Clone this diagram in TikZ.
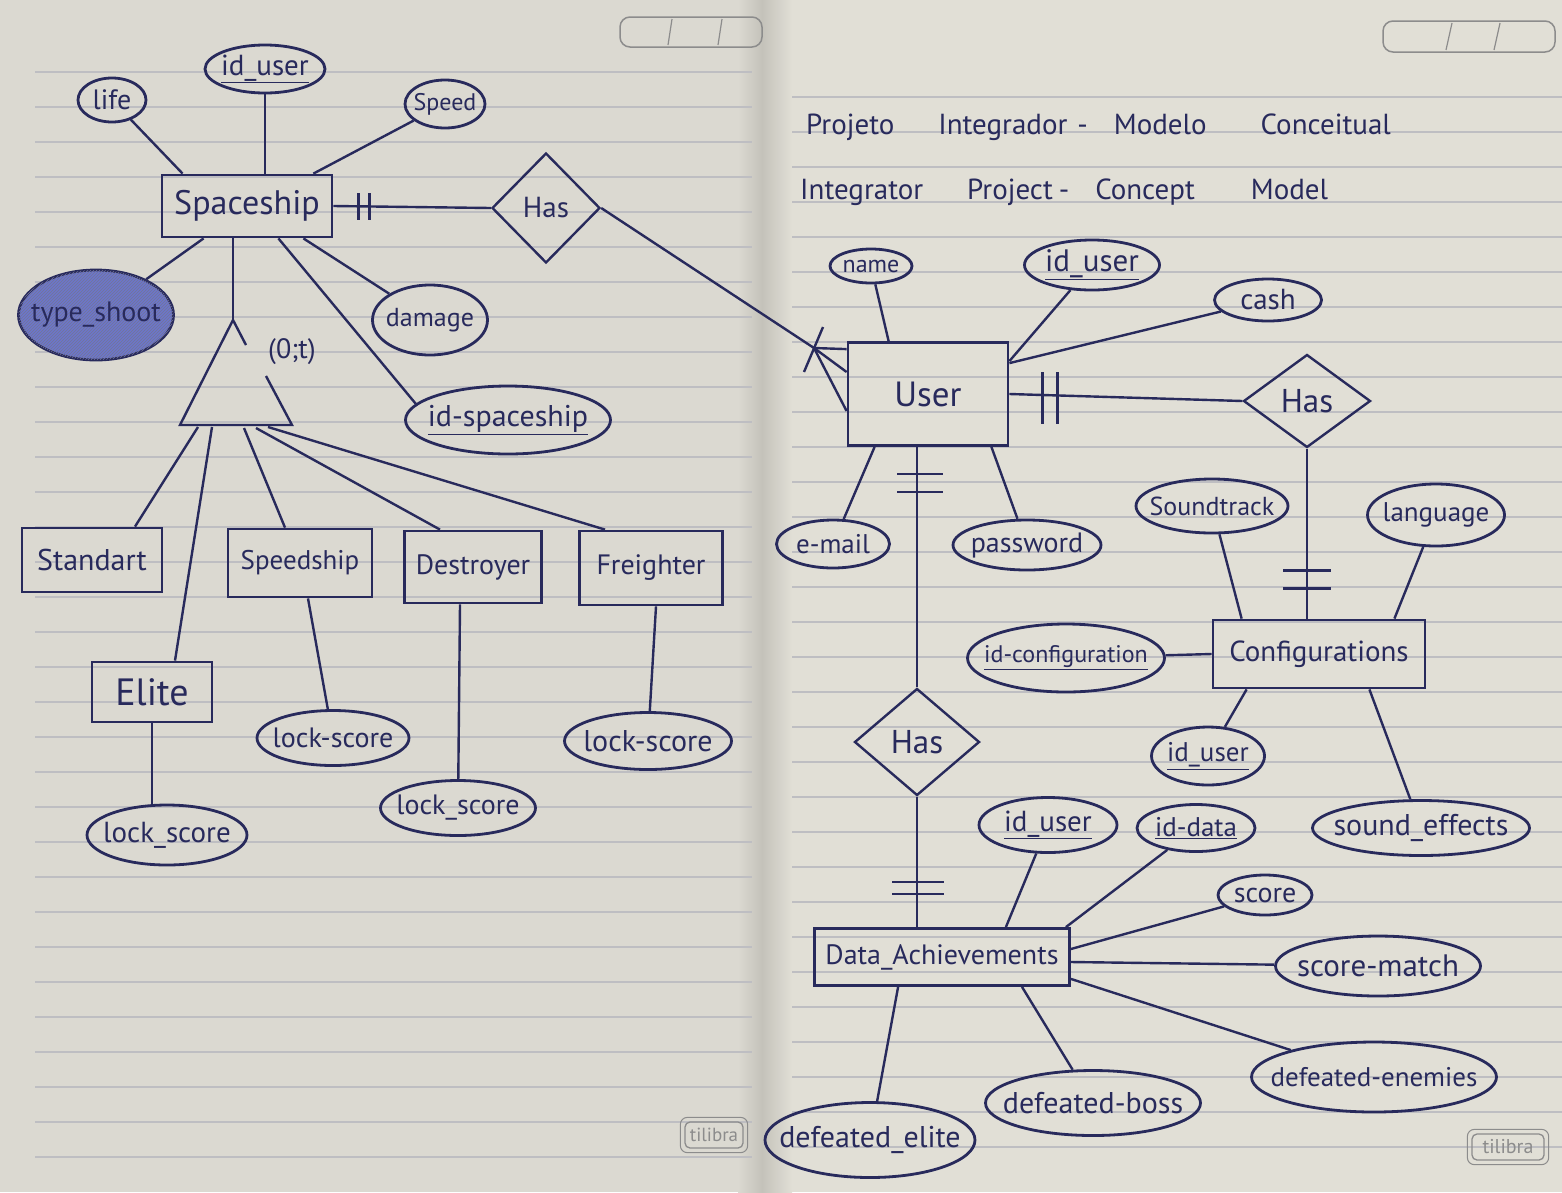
\documentclass[tikz,border=0pt]{standalone}
\usepackage{fontspec}
\setmainfont{PT Sans}
\usetikzlibrary{shapes.geometric,calc,patterns}

\definecolor{ink}{RGB}{40,42,92}
\definecolor{shade}{RGB}{108,118,204}
\definecolor{paperL}{RGB}{219,217,209}
\definecolor{paperR}{RGB}{225,223,214}
\definecolor{rulecol}{RGB}{190,190,194}
\definecolor{foldcol}{RGB}{196,194,186}
\definecolor{printcol}{RGB}{140,140,140}

\newcommand{\fs}[1]{\fontsize{#1}{#1}\selectfont}
% label text that does not widen its shape
\newcommand{\inkt}[1]{\makebox[0pt]{#1}}

\begin{document}
\begin{tikzpicture}[x=1pt,y=-1pt,
  ent/.style={draw=ink, line width=2.8pt, rectangle, inner sep=0pt, text=ink},
  attr/.style={draw=ink, line width=2.8pt, ellipse, inner sep=0pt, text=ink},
  rel/.style={draw=ink, line width=2.4pt, diamond, inner sep=0pt, text=ink},
  link/.style={draw=ink, line width=2.4pt},
  bar/.style={draw=ink, line width=2.4pt},
  ruled/.style={draw=rulecol, line width=1.2pt},
  note/.style={text=ink, inner sep=0pt},
  brand/.style={draw=printcol, text=printcol, rounded corners=5pt, line width=1.3pt, inner sep=0pt},
]
\useasboundingbox (0,0) rectangle (1562,1192);

% --- notebook paper ---
\fill[paperL] (0,0) rectangle (762,1192);
\fill[paperR] (762,0) rectangle (1562,1192);
\fill[left color=paperL, right color=foldcol] (738,0) rectangle (762,1192);
\fill[left color=foldcol, right color=paperR] (762,0) rectangle (792,1192);
\foreach \k in {2,...,33} \draw[ruled] (35,{2+35*\k}) -- (752,{2+35*\k});
\foreach \k in {2,...,32} \draw[ruled] (792,{27+35*\k}) -- (1562,{27+35*\k});

% date boxes
\draw[printcol, line width=1.5pt, rounded corners=10pt] (620,17) rectangle (762,47);
\draw[printcol, line width=1.2pt] (672,19) -- (668,45) (722,19) -- (718,45);
\draw[printcol, line width=1.5pt, rounded corners=10pt] (1383,21) rectangle (1555,52);
\draw[printcol, line width=1.2pt] (1452,23) -- (1446,50) (1500,23) -- (1494,50);

% brand badges
\node[brand, minimum width=58, minimum height=26, font=\fs{19}] (tl1) at (714,1135) {tilibra};
\draw[printcol, line width=1pt, rounded corners=7pt] ($(tl1.south west)+(-4,4)$) rectangle ($(tl1.north east)+(4,-4)$);
\node[brand, minimum width=72, minimum height=26, font=\fs{20}] (tl2) at (1508,1147) {tilibra};
\draw[printcol, line width=1pt, rounded corners=7pt] ($(tl2.south west)+(-4,4)$) rectangle ($(tl2.north east)+(4,-4)$);

% --- title ---
\node[note, font=\fs{29}, anchor=base west] (t1) at (806,134) {Projeto\hspace{44pt}Integrador\hspace{10pt}-\hspace{26pt}Modelo\hspace{54pt}Conceitual};
\node[note, font=\fs{29}, anchor=base west] (t2) at (800,199) {Integrator\hspace{44pt}Project\hspace{6pt}-\hspace{26pt}Concept\hspace{56pt}Model};

% --- Spaceship and its attributes ---
\node[ent, minimum width=170, minimum height=62, font=\fs{34}] (ship) at (247,206) {\inkt{Spaceship}};
\node[attr, minimum width=68, minimum height=44, font=\fs{28}] (life) at (112,100) {\inkt{life}};
\node[attr, minimum width=120, minimum height=48, font=\fs{29}] (idu1) at (265,69) {\inkt{\underline{id\_user}}};
\node[attr, minimum width=80, minimum height=48, font=\fs{24}] (speed) at (445,104) {\inkt{Speed}};
\node[attr, fill=shade, postaction={pattern=north east lines, pattern color=ink!65}, minimum width=155, minimum height=90, font=\fs{28}] (shoot) at (96,315) {\inkt{type\_shoot}};
\node[attr, minimum width=115, minimum height=70, font=\fs{26}] (dmg) at (430,320) {\inkt{damage}};
\node[attr, minimum width=205, minimum height=68, font=\fs{30}] (idsp) at (508,420) {\inkt{\underline{id-spaceship}}};

\draw[link] (life) -- ($(ship.north west)+(22,0)$);
\draw[link] (idu1.south) -- (idu1.south |- ship.north);
\draw[link] (speed) -- ($(ship.north east)+(-20,0)$);
\draw[link] ($(ship.south west)+(43,0)$) -- (shoot);
\draw[link] ($(ship.south east)+(-30,0)$) -- (dmg);
\draw[link] ($(ship.south east)+(-55,0)$) -- (idsp.170);

% --- Spaceship -- Has ---
\node[rel, minimum width=108, minimum height=110, font=\fs{29}] (has1) at (546,208) {\inkt{Has}};
\draw[link] (ship.east) -- (has1.west);
\draw[bar] ($(ship.east)+(25,-13)$) -- ++(0,27);
\draw[bar] ($(ship.east)+(36,-13)$) -- ++(0,27);

% --- specialization ---
\coordinate (tA) at (233,320);
\coordinate (tL) at (180,425);
\coordinate (tR) at (292,425);
\coordinate (tG1) at (246,345);
\coordinate (tG2) at (266,376);
\draw[link] (tA |- ship.south) -- (tA);
\draw[link] (tG1) -- (tA) -- (tL) -- (tR) -- (tG2);
\node[note, font=\fs{28}] (card) at (292,352) {(0;t)};

\node[ent, minimum width=140, minimum height=64, font=\fs{30}] (std) at (92,560) {\inkt{Standart}};
\node[ent, minimum width=144, minimum height=68, font=\fs{27}] (spd) at (300,563) {\inkt{Speedship}};
\node[ent, minimum width=137, minimum height=72, font=\fs{28}] (des) at (473,567) {\inkt{Destroyer}};
\node[ent, minimum width=143, minimum height=74, font=\fs{28}] (frt) at (651,568) {\inkt{Freighter}};
\node[ent, minimum width=120, minimum height=60, font=\fs{38}] (eli) at (152,692) {\inkt{Elite}};

\coordinate (b1) at (198,427);
\coordinate (b2) at (212,427);
\coordinate (b3) at (244,428);
\coordinate (b4) at (256,428);
\coordinate (b5) at (268,427);
\draw[link] (b1) -- ($(std.north)+(43,0)$);
\draw[link] (b2) -- ($(eli.north)+(23,0)$);
\draw[link] (b3) -- ($(spd.north)+(-15,0)$);
\draw[link] (b4) -- ($(des.north)+(-33,0)$);
\draw[link] (b5) -- ($(frt.north)+(-46,0)$);

\node[attr, minimum width=160, minimum height=60, font=\fs{29}] (ls1) at (167,835) {\inkt{lock\_score}};
\node[attr, minimum width=152, minimum height=55, font=\fs{28}] (ls2) at (333,738) {\inkt{lock-score}};
\node[attr, minimum width=155, minimum height=55, font=\fs{28}] (ls3) at (458,808) {\inkt{lock\_score}};
\node[attr, minimum width=167, minimum height=57, font=\fs{30}] (ls4) at (648,741) {\inkt{lock-score}};
\draw[link] (eli.south) -- (ls1.north -| eli.south);
\draw[link] ($(spd.south)+(8,0)$) -- (ls2);
\draw[link] ($(des.south)+(-13,0)$) -- (ls3);
\draw[link] ($(frt.south)+(5,0)$) -- (ls4);

% --- User and its attributes ---
\node[ent, minimum width=160, minimum height=103, font=\fs{35}] (user) at (928,394) {\inkt{User}};
\node[attr, minimum width=82, minimum height=34, font=\fs{24}] (name) at (871,266) {\inkt{name}};
\node[attr, minimum width=135, minimum height=50, font=\fs{31}] (idu2) at (1092,265) {\inkt{\underline{id\_user}}};
\node[attr, minimum width=107, minimum height=42, font=\fs{29}] (cash) at (1268,300) {\inkt{cash}};
\node[attr, minimum width=113, minimum height=48, font=\fs{27}] (mail) at (833,544) {\inkt{e-mail}};
\node[attr, minimum width=148, minimum height=50, font=\fs{28}] (pass) at (1027,545) {\inkt{password}};

\draw[link] (name) -- ($(user.north west)+(42,0)$);
\draw[link] (idu2) -- ($(user.north east)+(0,20)$);
\draw[link] (cash) -- ($(user.north east)+(0,22)$);
\draw[link] ($(user.south west)+(28,0)$) -- (mail);
\draw[link] ($(user.south east)+(-18,0)$) -- (pass);

% one-or-many end at User
\coordinate (cf) at (814,348);
\draw[link] (has1.east) -- (cf);
\draw[link] (cf) -- ($(user.north west)+(0,8)$);
\draw[link] (cf) -- ($(user.west)+(0,-22)$);
\draw[link] (cf) -- ($(user.west)+(0,17)$);
\draw[bar] ($(cf)+(9,-21)$) -- ($(cf)+(-10,24)$);

% --- User -- Has -- Configurations ---
\node[rel, minimum width=127, minimum height=93, font=\fs{33}] (has2) at (1307,401) {\inkt{Has}};
\node[ent, minimum width=212, minimum height=68, font=\fs{29}] (conf) at (1319,654) {\inkt{Configurations}};
\draw[link] (user.east) -- (has2.west);
\draw[bar] ($(user.east)+(33,-22)$) -- ++(0,52);
\draw[bar] ($(user.east)+(48,-22)$) -- ++(0,52);
\draw[link] (has2.south) -- (has2.south |- conf.north);
\draw[bar] ($(has2.south |- conf.north)+(-24,-48)$) -- ++(48,0);
\draw[bar] ($(has2.south |- conf.north)+(-24,-30)$) -- ++(48,0);

\node[attr, minimum width=152, minimum height=54, font=\fs{26}] (snd) at (1212,506) {\inkt{Soundtrack}};
\node[attr, minimum width=137, minimum height=62, font=\fs{27}] (lang) at (1436,515) {\inkt{language}};
\node[attr, minimum width=197, minimum height=68, font=\fs{24}] (idconf) at (1066,658) {\inkt{\underline{id-configuration}}};
\node[attr, minimum width=113, minimum height=58, font=\fs{27}] (idu3) at (1208,756) {\inkt{\underline{id\_user}}};
\node[attr, minimum width=217, minimum height=55, font=\fs{30}] (sfx) at (1421,828) {\inkt{sound\_effects}};
\draw[link] (snd) -- ($(conf.north west)+(30,0)$);
\draw[link] (lang) -- ($(conf.north east)+(-32,0)$);
\draw[link] (idconf) -- (conf.west);
\draw[link] ($(conf.south west)+(35,0)$) -- (idu3);
\draw[link] ($(conf.south east)+(-57,0)$) -- (sfx);

% --- User -- Has -- Data_Achievements ---
\node[rel, minimum width=125, minimum height=107, font=\fs{33}] (has3) at (917,742) {\inkt{Has}};
\node[ent, minimum width=255, minimum height=57, font=\fs{28}] (da) at (942,957) {\inkt{Data\_Achievements}};
\draw[link] (has3.north) -- (has3.north |- user.south);
\draw[bar] ($(has3.north |- user.south)+(-20,27)$) -- ++(46,0);
\draw[bar] ($(has3.north |- user.south)+(-20,45)$) -- ++(46,0);
\draw[link] (has3.south) -- (has3.south |- da.north);
\draw[bar] ($(has3.south |- da.north)+(-25,-45)$) -- ++(52,0);
\draw[bar] ($(has3.south |- da.north)+(-25,-33)$) -- ++(52,0);

\node[attr, minimum width=138, minimum height=55, font=\fs{29}] (idu4) at (1048,825) {\inkt{\underline{id\_user}}};
\node[attr, minimum width=118, minimum height=47, font=\fs{27}] (iddata) at (1196,828) {\inkt{\underline{id-data}}};
\node[attr, minimum width=94, minimum height=40, font=\fs{28}] (score) at (1265,895) {\inkt{score}};
\node[attr, minimum width=205, minimum height=60, font=\fs{31}] (smatch) at (1378,966) {\inkt{score-match}};
\node[attr, minimum width=245, minimum height=70, font=\fs{27}] (defen) at (1374,1077) {\inkt{defeated-enemies}};
\node[attr, minimum width=215, minimum height=65, font=\fs{30}] (defboss) at (1093,1103) {\inkt{defeated-boss}};
\node[attr, minimum width=210, minimum height=75, font=\fs{30}] (defel) at (870,1140) {\inkt{defeated\_elite}};

\draw[link] (idu4) -- ($(da.north east)+(-65,0)$);
\draw[link] (iddata) -- ($(da.north east)+(-5,0)$);
\draw[link] (score) -- ($(da.east)+(0,-8)$);
\draw[link] (smatch) -- ($(da.east)+(0,5)$);
\draw[link] (defen) -- ($(da.south east)+(0,-8)$);
\draw[link] ($(da.south)+(80,0)$) -- (defboss);
\draw[link] ($(da.south west)+(85,0)$) -- (defel);

\end{tikzpicture}
\end{document}
